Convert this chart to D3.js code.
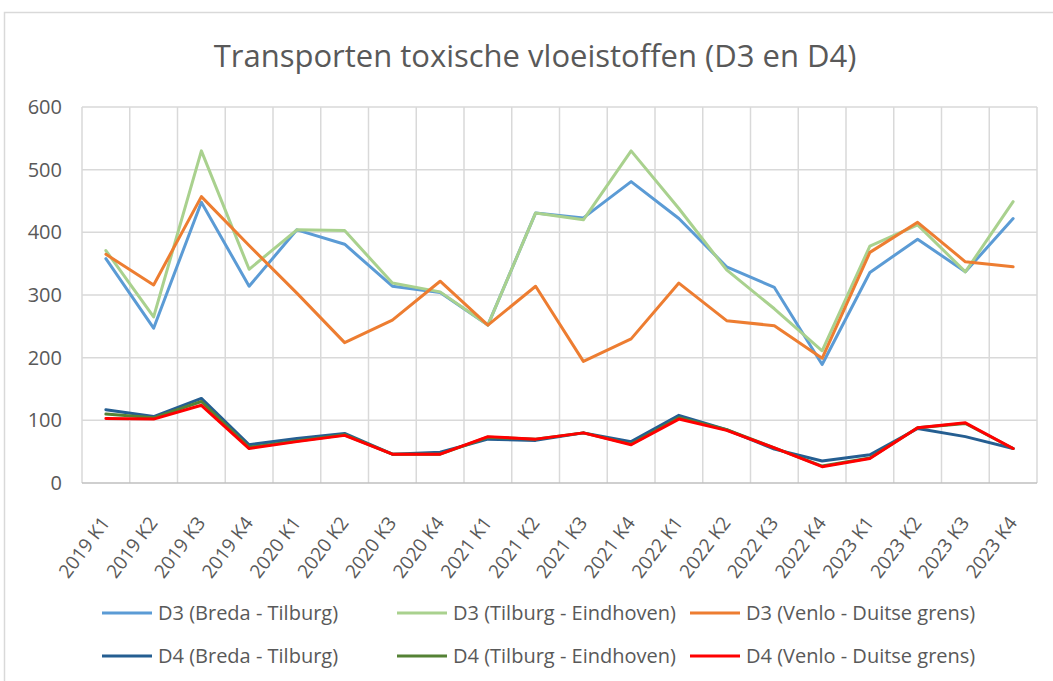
<!DOCTYPE html>
<html>
<head>
<meta charset="utf-8">
<script src="https://cdn.jsdelivr.net/npm/d3@7"></script>
<style>
  body { margin: 0; background: #fff; }
  svg { display: block; font-family: "Open Sans", "Noto Sans", sans-serif; }
</style>
</head>
<body>
<div id="chart"></div>
<script>
// quarters on the x axis
var quarters = ["2019 K1", "2019 K2", "2019 K3", "2019 K4",
                "2020 K1", "2020 K2", "2020 K3", "2020 K4",
                "2021 K1", "2021 K2", "2021 K3", "2021 K4",
                "2022 K1", "2022 K2", "2022 K3", "2022 K4",
                "2023 K1", "2023 K2", "2023 K3", "2023 K4"];

var yTicks = [0, 100, 200, 300, 400, 500, 600];

// series values
var d3BredaTilburg     = [358, 247, 448, 314, 404, 381, 314, 304, 252, 431, 423, 481, 422, 345, 312, 189, 336, 389, 337, 422];
var d3TilburgEindhoven = [371, 265, 530, 341, 404, 403, 319, 305, 252, 431, 420, 530, 438, 340, 278, 211, 378, 412, 337, 449];
var d3VenloGrens       = [365, 316, 457, 379, 303, 224, 260, 322, 252, 314, 194, 230, 319, 259, 251, 199, 368, 416, 353, 345];
var d4BredaTilburg     = [117, 106, 135, 61, 71, 79, 46, 49, 70, 68, 80, 66, 108, 85, 54, 35, 45, 87, 74, 55];
var d4TilburgEindhoven = [110, 104, 130, 57, 67, 77, 46, 46, 73, 70, 80, 62, 104, 85, 56, 27, 40, 88, 95, 55];
var d4VenloGrens       = [103, 102, 124, 55, 66, 76, 46, 46, 74, 70, 80, 61, 102, 84, 56, 26, 39, 88, 96, 55];

var seriesNames  = ["D3 (Breda - Tilburg)", "D3 (Tilburg - Eindhoven)", "D3 (Venlo - Duitse grens)",
                    "D4 (Breda - Tilburg)", "D4 (Tilburg - Eindhoven)", "D4 (Venlo - Duitse grens)"];
var seriesValues = [d3BredaTilburg, d3TilburgEindhoven, d3VenloGrens,
                    d4BredaTilburg, d4TilburgEindhoven, d4VenloGrens];
var seriesColors = ["#5b9bd5", "#a9d18e", "#ed7d31", "#255e91", "#548235", "#ff0000"];

var series = seriesNames.map(function(name, i) {
  return { name: name, color: seriesColors[i], values: seriesValues[i] };
});

//Width and height
var w = 1053;
var h = 681;
var plot = { left: 82, right: 1037, top: 107, bottom: 483 };

var svg = d3.select("#chart")
            .append("svg")
            .attr("width", w)
            .attr("height", h);

// chart border
svg.append("rect")
   .attr("x", 4.5).attr("y", 12.5)
   .attr("width", w + 10).attr("height", h + 10)
   .attr("fill", "#fff")
   .attr("stroke", "#d9d9d9")
   .attr("stroke-width", 1.5);

// title
svg.append("text")
   .attr("x", 535)
   .attr("y", 67)
   .attr("text-anchor", "middle")
   .style("font-size", "31px")
   .style("fill", "#595959")
   .text("Transporten toxische vloeistoffen (D3 en D4)");

var x = d3.scaleBand()
          .domain(quarters)
          .range([plot.left, plot.right])
          .padding(0);

var y = d3.scaleLinear()
          .domain([0, 600])
          .range([plot.bottom, plot.top]);

// horizontal gridlines
svg.append("g").selectAll("line")
   .data(yTicks.filter(function(d) { return d > 0; }))
   .enter()
   .append("line")
   .attr("x1", plot.left).attr("x2", plot.right)
   .attr("y1", function(d) { return y(d); })
   .attr("y2", function(d) { return y(d); })
   .style("stroke", "#d9d9d9")
   .style("stroke-width", 1.5);

// vertical gridlines at category boundaries
var bounds = quarters.map(function(q) { return x(q); }).concat([plot.right]);
svg.append("g").selectAll("line")
   .data(bounds)
   .enter()
   .append("line")
   .attr("x1", function(d) { return d; })
   .attr("x2", function(d) { return d; })
   .attr("y1", plot.top).attr("y2", plot.bottom)
   .style("stroke", "#d9d9d9")
   .style("stroke-width", 1.5);

// base axis line
svg.append("line")
   .attr("x1", plot.left).attr("x2", plot.right)
   .attr("y1", y(0)).attr("y2", y(0))
   .style("stroke", "#bfbfbf")
   .style("stroke-width", 1.5);

// y axis labels
var yAxis = svg.append("g")
   .attr("transform", "translate(" + (plot.left - 20) + ",0)")
   .call(d3.axisLeft(y).tickValues(yTicks).tickSize(0).tickPadding(0));
yAxis.select(".domain").remove();
yAxis.selectAll("text")
     .style("font-size", "20px")
     .style("font-family", "'Open Sans', sans-serif")
     .style("fill", "#595959");

// x axis labels, rotated
var xAxis = svg.append("g")
   .attr("transform", "translate(0," + plot.bottom + ")")
   .call(d3.axisBottom(x).tickSize(0).tickPadding(0));
xAxis.select(".domain").remove();
xAxis.selectAll("text")
     .attr("text-anchor", "end")
     .attr("dy", 0)
     .attr("transform", "translate(5,40) rotate(-53)")
     .style("font-size", "19px")
     .style("font-family", "'Open Sans', sans-serif")
     .style("fill", "#595959");

// lines
var line = d3.line()
             .x(function(d, i) { return x(quarters[i]) + x.bandwidth() / 2; })
             .y(function(d) { return y(d); });

svg.append("g").selectAll("path")
   .data(series)
   .enter()
   .append("path")
   .attr("d", function(d) { return line(d.values); })
   .style("fill", "none")
   .style("stroke", function(d) { return d.color; })
   .style("stroke-width", 3)
   .style("stroke-linejoin", "round")
   .style("stroke-linecap", "round");

// legend: 3 columns, 2 rows
var legendCols = [102, 397, 690];
var legendRows = [613, 656];
var legend = svg.append("g").selectAll("g")
   .data(series)
   .enter()
   .append("g")
   .attr("transform", function(d, i) {
     return "translate(" + legendCols[i % 3] + "," + legendRows[Math.floor(i / 3)] + ")";
   });

legend.append("line")
      .attr("x1", 0).attr("x2", 50)
      .attr("y1", 0).attr("y2", 0)
      .style("stroke", function(d) { return d.color; })
      .style("stroke-width", 3);

legend.append("text")
      .attr("x", 56)
      .attr("y", 7)
      .style("font-size", "20px")
      .style("fill", "#595959")
      .text(function(d) { return d.name; });
</script>
</body>
</html>
